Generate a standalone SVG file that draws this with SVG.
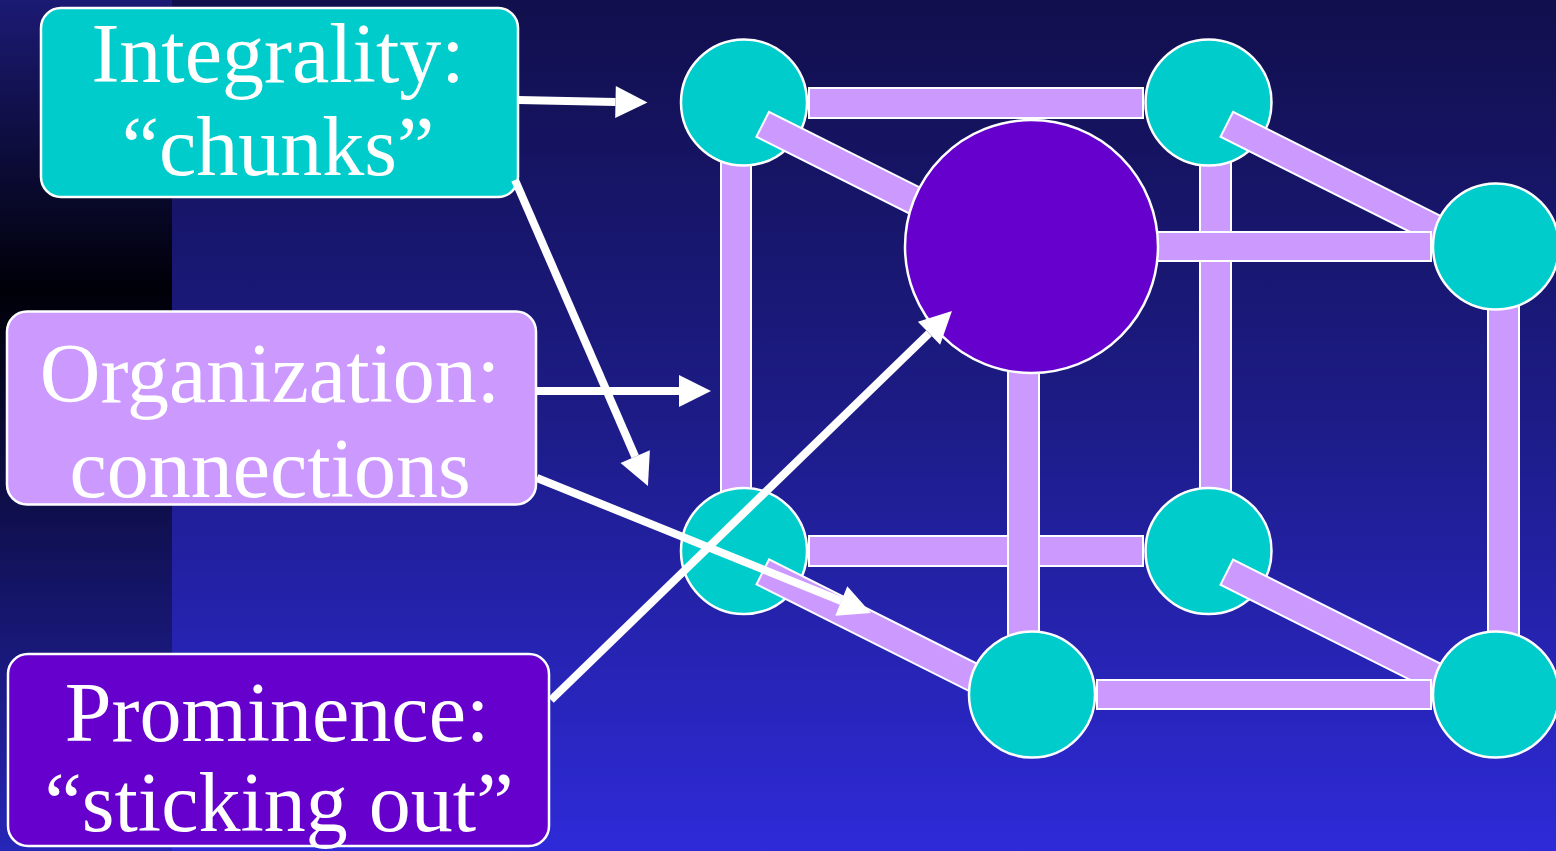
<svg xmlns="http://www.w3.org/2000/svg" width="1556" height="851" viewBox="0 0 1556 851">
<defs>
<linearGradient id="bg" x1="0" y1="0" x2="0" y2="1">
<stop offset="0" stop-color="#110f4c"/>
<stop offset="0.5" stop-color="#1d1c88"/>
<stop offset="1" stop-color="#2e2ad8"/>
</linearGradient>
<linearGradient id="strip" x1="0" y1="0" x2="0" y2="1">
<stop offset="0" stop-color="#1b1a74"/>
<stop offset="0.34" stop-color="#000008"/>
<stop offset="1" stop-color="#2626b8"/>
</linearGradient>
<marker id="ah" markerUnits="userSpaceOnUse" viewBox="0 -16 32 32" markerWidth="32" markerHeight="32" refX="0" refY="0" orient="auto" overflow="visible">
<path d="M0,-16 L32,0 L0,16 Z" fill="#ffffff"/>
</marker>
<style>
.bar{fill:#cc99ff;stroke:#ffffff;stroke-width:2}
.teal{fill:#00cccc;stroke:#ffffff;stroke-width:2.5}
.big{fill:#6600cc;stroke:#ffffff;stroke-width:2.5}
.lbl{font-family:"Liberation Serif","Times New Roman",serif;font-size:84px;fill:#ffffff;text-anchor:middle}
.box{stroke:#ffffff;stroke-width:2.5}
.arr{stroke:#ffffff;stroke-width:8;fill:none;marker-end:url(#ah)}
</style>
</defs>
<rect x="0" y="0" width="1556" height="851" fill="url(#bg)"/>
<rect x="0" y="0" width="172" height="851" fill="url(#strip)"/>

<g id="cube">
<rect class="bar" x="721" y="150" width="30" height="350"/>
<rect class="bar" x="1200" y="150" width="31" height="350"/>
<rect class="bar" x="809" y="88" width="334" height="30"/>
<rect class="bar" x="809" y="536" width="334" height="30"/>
<rect class="bar" x="1488" y="290" width="31" height="360"/>
<g id="n-tl"><circle class="teal" cx="744" cy="102.5" r="63"/></g>
<g id="n-tr"><circle class="teal" cx="1208.5" cy="102.5" r="63"/></g>
<g id="n-bl"><circle class="teal" cx="744" cy="551" r="63"/></g>
<g id="n-br"><circle class="teal" cx="1208.5" cy="551" r="63"/></g>
<rect class="bar" x="0" y="-14" width="250" height="28" transform="translate(762.7,124.3) rotate(26.64)"/>
<rect class="bar" x="0" y="-14" width="270" height="28" transform="translate(1226.8,124.3) rotate(26.64)"/>
<rect class="bar" x="0" y="-14" width="250" height="28" transform="translate(762.8,571.9) rotate(26.64)"/>
<rect class="bar" x="0" y="-14" width="270" height="28" transform="translate(1226.8,572.2) rotate(26.64)"/>
<rect class="bar" x="1130" y="232" width="301" height="29"/>
<rect class="bar" x="1097" y="680" width="334" height="29"/>
<rect class="bar" x="1008" y="350" width="31" height="300"/>
<g id="n-center"><circle class="big" cx="1031.5" cy="246.5" r="126.5"/></g>
<g id="n-rm"><circle class="teal" cx="1496" cy="246.5" r="63"/></g>
<g id="n-bf"><circle class="teal" cx="1032" cy="694.5" r="63"/></g>
<g id="n-brc"><circle class="teal" cx="1496" cy="694.5" r="63"/></g>
</g>

<g id="integrality">
<rect class="box" x="41" y="8" width="477" height="189" rx="20" fill="#00cccc"/>
<text class="lbl" x="278" y="82">Integrality:</text>
<text class="lbl" x="278" y="175">“chunks”</text>
</g>
<g id="organization">
<rect class="box" x="7" y="311.5" width="529" height="193" rx="20" fill="#cc99ff"/>
<text class="lbl" x="270" y="402">Organization:</text>
<text class="lbl" x="270" y="497">connections</text>
</g>
<g id="prominence">
<rect class="box" x="8" y="654" width="541" height="192" rx="20" fill="#6600cc"/>
<text class="lbl" x="277" y="741">Prominence:</text>
<text class="lbl" x="279" y="831">“sticking out”</text>
</g>

<g id="connectors">
<line class="arr" x1="518" y1="100" x2="615.5" y2="101.9"/>
<line class="arr" x1="515" y1="180" x2="635.2" y2="456.7"/>
<line class="arr" x1="537" y1="391" x2="679" y2="391"/>
<line class="arr" x1="537" y1="478" x2="841.3" y2="601"/>
<line class="arr" x1="551" y1="700" x2="929" y2="333.3"/>
</g>
</svg>
